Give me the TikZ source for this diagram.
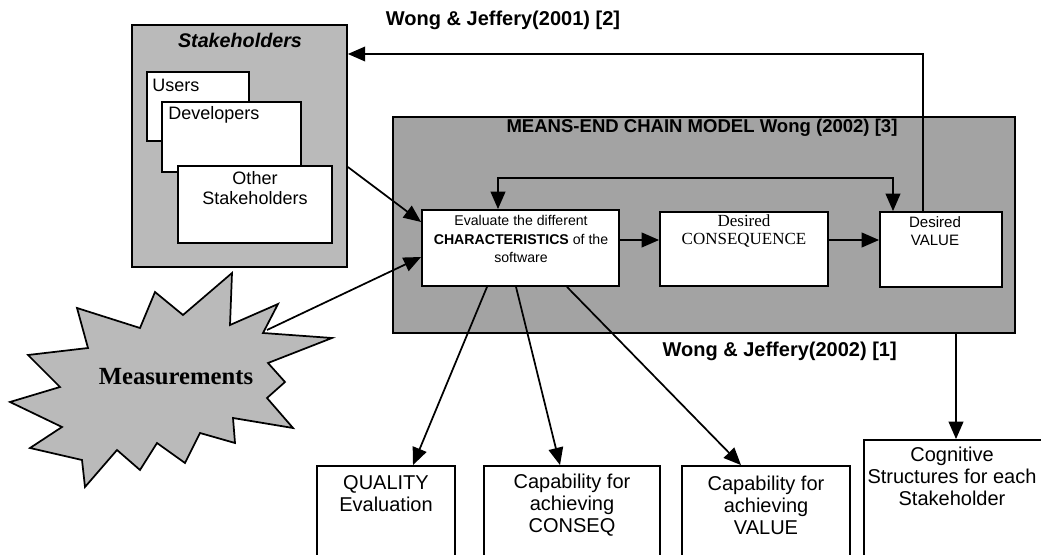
\documentclass[tikz,border=0pt]{standalone}
\usepackage{fontspec}
\setmainfont{Liberation Serif}
\setsansfont{Liberation Sans}
\usetikzlibrary{arrows.meta,fit}
\begin{document}
\begin{tikzpicture}[x=0.75pt,y=-0.75pt,
  box/.style={draw=black,line width=1.4pt,fill=white,inner sep=0pt},
  graybox/.style={draw=black,line width=1.3pt,fill=black!27,inner sep=0pt},
  darkbox/.style={draw=black,line width=1.3pt,fill=black!36,inner sep=0pt},
  arr/.style={line width=1.3pt,-{Triangle[length=13pt,width=11pt]}},
  arrboth/.style={line width=1.3pt,{Triangle[length=13pt,width=11pt]}-{Triangle[length=13pt,width=11pt]}},
  txt/.style={align=center,inner sep=0pt},
  ref/.style={inner sep=0pt,font=\sffamily\bfseries\fontsize{15}{17}\selectfont}]
\useasboundingbox (0,0) rectangle (1041,555);
\clip (0,0) rectangle (1041,555);

% Stakeholders group
\node[graybox, fit={(132,25) (347,267)}] (stake) {};
\node[txt, font=\sffamily\bfseries\itshape\fontsize{14.8}{16}\selectfont] (staketitle) at (240,40) {Stakeholders};
\node[box, fit={(147,72) (249,141)}] (users) {};
\node[box, fit={(162,102) (301,172)}] (dev) {};
\node[box, fit={(178,166) (332,243)}] (other) {};
\node[txt, anchor=west, font=\sffamily\fontsize{13.5}{15}\selectfont] (userst) at (152,85) {Users};
\node[txt, anchor=west, font=\sffamily\fontsize{13.5}{15}\selectfont] (devt) at (168,115) {Developers};
\node[txt, font=\sffamily\fontsize{13.5}{15}\selectfont] (othert) at (255,188) {Other\\Stakeholders};

% Means-end chain model
\node[darkbox, fit={(393,117) (1015,333)}] (meo) {};
\node[txt, font=\sffamily\bfseries\fontsize{13.9}{15}\selectfont] (meotitle) at (702,128) {MEANS-END CHAIN MODEL Wong (2002) [3]};
\node[box, fit={(422,210) (619,286)}] (eval) {};
\node[box, fit={(660,212) (828,286)}] (cons) {};
\node[box, fit={(880,212) (1002,287)}] (value) {};
\node[txt, font=\sffamily\fontsize{10.6}{13.6}\selectfont] (evalt) at (521,239) {Evaluate the different\\\textbf{CHARACTERISTICS} of the\\software};
\node[txt, font=\fontsize{12.75}{13.5}\selectfont] (const) at (744,231) {Desired\\CONSEQUENCE};
\node[txt, font=\sffamily\fontsize{11.3}{13.5}\selectfont] (valuet) at (935,231) {Desired\\VALUE};

% Measurements star
\draw[line width=1.3pt, fill=black!27, line join=miter]
  (232,273) -- (230,325) -- (278,304) -- (263,333) -- (332,338) -- (268,363)
  -- (285,382) -- (267,398) -- (293,428) -- (233,418) -- (235,443) -- (200,433)
  -- (185,463) -- (157,443) -- (140,470) -- (117,450) -- (85,487) -- (82,460)
  -- (30,448) -- (62,427) -- (10,402) -- (60,387) -- (28,355) -- (88,348)
  -- (77,308) -- (140,328) -- (155,292) -- (183,315) -- cycle;
\node[txt, font=\bfseries\fontsize{18.5}{20}\selectfont] (meas) at (176,377) {Measurements};
\coordinate (mtip) at (267,330);

% Bottom boxes
\node[box, fit={(317,466) (455,600)}] (qual) {};
\node[box, fit={(484,466) (660,600)}] (capc) {};
\node[box, fit={(682,466) (850,600)}] (capv) {};
\node[box, fit={(864,440) (1050,600)}] (cog) {};
\node[txt, font=\sffamily\fontsize{15}{16.5}\selectfont] (qualt) at (386,494) {QUALITY\\Evaluation};
\node[txt, font=\sffamily\fontsize{15}{16.5}\selectfont] (capct) at (572,505) {Capability for\\achieving\\CONSEQ};
\node[txt, font=\sffamily\fontsize{15}{16.5}\selectfont] (capvt) at (766,505) {Capability for\\achieving\\VALUE};
\node[txt, font=\sffamily\fontsize{15}{16.5}\selectfont] (cogt) at (952,476) {Cognitive\\Structures for each\\Stakeholder};

% Reference labels
\node[ref] (ref2) at (503,20) {Wong \& Jeffery(2001) [2]};
\node[ref, anchor=east] (ref1) at (897,351) {Wong \& Jeffery(2002) [1]};

% Helper coordinates
\coordinate (loopL) at (498,178);
\coordinate (loopR) at (893,178);
\coordinate (fb) at (923,54);
\coordinate (y240) at (0,240);
\coordinate (ys) at (0,167);
\coordinate (ye1) at (0,222);
\coordinate (ye2) at (0,257);

% Connectors
\draw[arrboth] (eval.north -| loopL) -- (loopL) -- (loopR) -- (value.north -| loopR);
\draw[arr] (eval.east |- y240) -- (cons.west |- y240);
\draw[arr] (cons.east |- y240) -- (value.west |- y240);
\draw[arr] (value.north -| fb) -- (fb) -- (stake.east |- fb);
\draw[arr] (stake.east |- ys) -- (eval.west |- ye1);
\draw[arr] (mtip) -- (eval.west |- ye2);
\draw[arr] (eval.south -| 487,0) -- (qual.north -| 413,0);
\draw[arr] (eval.south -| 516,0) -- (capc.north -| 560,0);
\draw[arr] (eval.south -| 567,0) -- (capv.north -| 741,0);
\draw[arr] (meo.south -| 956,0) -- (cog.north -| 956,0);
\end{tikzpicture}
\end{document}
